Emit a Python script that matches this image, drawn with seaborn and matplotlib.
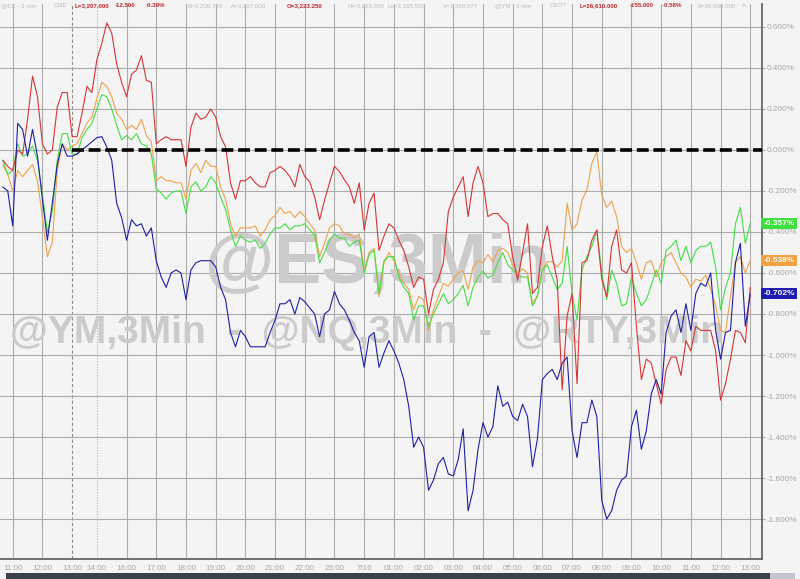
import numpy as np
import pandas as pd
import matplotlib
matplotlib.use("Agg")
import matplotlib.pyplot as plt
from matplotlib.patches import Rectangle
from matplotlib.transforms import blended_transform_factory
import seaborn as sns

# ---------------- data (percent change, 10-minute samples) ----------------
nq_vals = [-0.05, -0.08, -0.10, 0.00, -0.02, 0.15, 0.36, 0.26, 0.03, -0.02, 0.00, 0.21, 0.28, 0.28, 0.065, 0.065,
           0.18, 0.31, 0.28, 0.44, 0.52, 0.62, 0.57, 0.42, 0.33, 0.26, 0.37, 0.39, 0.46, 0.34, 0.33,
           0.03, 0.05, 0.065, 0.05, 0.05, 0.05, -0.08, 0.11, 0.18, 0.15, 0.16, 0.20, 0.16, 0.065, 0.015,
           -0.16, -0.24, -0.15, -0.15, -0.13, -0.16, -0.18, -0.18, -0.11, -0.10, -0.08, -0.10, -0.13, -0.18, -0.07,
           -0.13, -0.155, -0.23, -0.34, -0.245, -0.16, -0.08, -0.105, -0.145, -0.18, -0.26, -0.16, -0.39, -0.26, -0.21,
           -0.49, -0.42, -0.36, -0.38, -0.44, -0.49, -0.57, -0.67, -0.62, -0.63, -0.80, -0.68, -0.63, -0.55, -0.30,
           -0.23, -0.18, -0.13, -0.325, -0.16, -0.08, -0.16, -0.325, -0.31, -0.31, -0.34, -0.36, -0.52, -0.635, -0.50,
           -0.36, -0.70, -0.67, -0.47, -0.37, -0.52, -0.635, -1.17, -0.81, -0.70, -1.14, -0.55, -0.54, -0.44, -0.39,
           -0.63, -0.715, -0.47, -0.39, -0.585, -0.60, -0.55, -0.86, -1.12, -1.02, -1.04, -1.14, -1.24, -1.07, -1.01,
           -1.01, -1.10, -0.93, -0.98, -0.86, -0.88, -0.88, -0.88, -0.98, -1.22, -1.14, -1.02, -0.88, -0.89, -0.94, -0.67]

ym_vals = [-0.07, -0.12, -0.20, -0.10, -0.13, -0.10, -0.07, -0.15, -0.33, -0.52, -0.45, -0.10, 0.03, 0.00, 0.02, 0.03,
           0.08, 0.13, 0.16, 0.25, 0.33, 0.31, 0.26, 0.18, 0.15, 0.10, 0.12, 0.10, 0.15, 0.07, 0.04,
           -0.15, -0.13, -0.15, -0.15, -0.16, -0.16, -0.24, -0.10, -0.065, -0.11, -0.05, -0.08, -0.08, -0.18, -0.24,
           -0.36, -0.42, -0.38, -0.38, -0.38, -0.37, -0.42, -0.39, -0.34, -0.32, -0.28, -0.31, -0.30, -0.33, -0.30,
           -0.325, -0.36, -0.39, -0.52, -0.455, -0.38, -0.36, -0.37, -0.41, -0.41, -0.43, -0.41, -0.585, -0.50, -0.48,
           -0.715, -0.55, -0.50, -0.54, -0.60, -0.65, -0.68, -0.78, -0.715, -0.73, -0.88, -0.78, -0.715, -0.65, -0.665,
           -0.63, -0.60, -0.59, -0.68, -0.57, -0.54, -0.55, -0.51, -0.545, -0.49, -0.48, -0.50, -0.56, -0.60, -0.58,
           -0.60, -0.75, -0.71, -0.585, -0.545, -0.545, -0.57, -0.54, -0.26, -0.39, -0.36, -0.245, -0.195, -0.065, -0.01,
           -0.22, -0.28, -0.25, -0.325, -0.47, -0.50, -0.48, -0.55, -0.63, -0.55, -0.54, -0.62, -0.55, -0.52, -0.50,
           -0.55, -0.60, -0.62, -0.67, -0.63, -0.64, -0.61, -0.68, -0.76, -0.88, -0.89, -0.715, -0.55, -0.52, -0.60, -0.538]

es_vals = [-0.05, -0.12, -0.10, 0.03, -0.03, -0.02, 0.02, -0.05, -0.22, -0.40, -0.30, -0.05, 0.08, 0.08, -0.02, -0.02,
           0.06, 0.10, 0.13, 0.20, 0.27, 0.26, 0.20, 0.12, 0.05, 0.07, 0.05, 0.08, 0.03, 0.02, -0.02,
           -0.19, -0.21, -0.24, -0.21, -0.20, -0.20, -0.31, -0.18, -0.155, -0.20, -0.18, -0.13, -0.16, -0.23, -0.29,
           -0.39, -0.47, -0.42, -0.44, -0.45, -0.44, -0.48, -0.455, -0.41, -0.38, -0.38, -0.36, -0.39, -0.37, -0.37,
           -0.36, -0.39, -0.415, -0.55, -0.50, -0.44, -0.41, -0.43, -0.43, -0.47, -0.45, -0.44, -0.60, -0.51, -0.49,
           -0.70, -0.54, -0.52, -0.52, -0.62, -0.67, -0.70, -0.83, -0.76, -0.76, -0.86, -0.80, -0.75, -0.70, -0.75,
           -0.73, -0.70, -0.66, -0.76, -0.67, -0.62, -0.59, -0.625, -0.61, -0.55, -0.50, -0.56, -0.585, -0.61, -0.62,
           -0.62, -0.76, -0.715, -0.585, -0.56, -0.62, -0.68, -0.65, -0.47, -0.70, -0.83, -0.585, -0.52, -0.47, -0.39,
           -0.60, -0.73, -0.585, -0.65, -0.76, -0.75, -0.62, -0.70, -0.76, -0.73, -0.66, -0.585, -0.65, -0.49, -0.47,
           -0.44, -0.54, -0.47, -0.55, -0.49, -0.47, -0.47, -0.45, -0.57, -0.78, -0.67, -0.60, -0.36, -0.28, -0.455, -0.357]

rty_vals = [-0.18, -0.20, -0.37, 0.13, 0.10, -0.03, 0.10, -0.03, -0.24, -0.44, -0.26, -0.07, 0.03, -0.03, -0.03, -0.02,
            0.00, 0.02, 0.04, 0.06, 0.065, 0.015, -0.05, -0.26, -0.33, -0.44, -0.34, -0.37, -0.36, -0.42, -0.38,
            -0.54, -0.62, -0.67, -0.60, -0.585, -0.60, -0.73, -0.585, -0.55, -0.54, -0.54, -0.54, -0.57, -0.67, -0.73,
            -0.89, -0.96, -0.88, -0.91, -0.96, -0.96, -0.96, -0.96, -0.89, -0.83, -0.75, -0.75, -0.73, -0.80, -0.72,
            -0.74, -0.77, -0.80, -0.91, -0.80, -0.78, -0.69, -0.75, -0.78, -0.83, -0.89, -0.93, -1.06, -0.91, -0.89,
            -1.06, -0.99, -0.93, -0.98, -1.04, -1.12, -1.25, -1.45, -1.40, -1.45, -1.66, -1.61, -1.53, -1.50, -1.58,
            -1.59, -1.51, -1.36, -1.76, -1.66, -1.46, -1.33, -1.40, -1.35, -1.15, -1.25, -1.23, -1.30, -1.32, -1.24,
            -1.30, -1.545, -1.41, -1.12, -1.09, -1.07, -1.12, -1.04, -1.01, -1.37, -1.50, -1.33, -1.33, -1.22, -1.30,
            -1.71, -1.80, -1.76, -1.66, -1.61, -1.59, -1.35, -1.27, -1.46, -1.37, -1.19, -1.12, -1.19, -0.89, -0.81,
            -0.78, -0.89, -0.75, -0.88, -0.70, -0.65, -0.665, -0.60, -0.88, -1.02, -0.89, -0.88, -0.55, -0.455, -0.86, -0.702]

series_names = ["YM", "ES", "NQ", "RTY"]
tick_labels = ["11:00", "12:00", "13:00", "14:00", "16:00", "17:00", "18:00", "19:00", "20:00", "21:00",
               "22:00", "23:00", "7/16", "01:00", "02:00", "03:00", "04:00", "05:00", "06:00", "07:00",
               "08:00", "09:00", "10:00", "11:00", "12:00", "13:00"]
tick_bars = [2, 8, 14, 19, 25, 31, 37, 43, 49, 55, 61, 67, 73, 79, 85, 91, 97, 103, 109, 115, 121, 127, 133,
             139, 145, 151]
y_ticks = [-1.8, -1.6, -1.4, -1.2, -1.0, -0.8, -0.6, -0.4, -0.2, 0.0, 0.2, 0.4, 0.6]

# ---------------- styles ----------------
palette = {"YM": "#f0a24a", "ES": "#45de45", "NQ": "#d83434", "RTY": "#1f1fa8"}
BG = "#f4f4f4"
GRID = "#acacac"
LABEL_GRAY = "#a8a8a8"

sns.set_style("white")
plt.rcParams["font.family"] = ["Liberation Sans", "DejaVu Sans"]

W, H = 800, 579
fig = plt.figure(figsize=(W / 100, H / 100), dpi=100, facecolor=BG)
ax = fig.add_axes([0, 20 / H, 762 / W, 555 / H])
ax.set_facecolor(BG)

values = {"YM": ym_vals, "ES": es_vals, "NQ": nq_vals, "RTY": rty_vals}
df = pd.concat([pd.DataFrame({"bar": np.arange(len(v)), "pct": v, "series": k}) for k, v in values.items()],
               ignore_index=True)

sns.lineplot(data=df, x="bar", y="pct", hue="series", hue_order=series_names, palette=palette,
             linewidth=0.8, legend=False, ax=ax, estimator=None, sort=False, zorder=3)

ax.set_xlim(-0.57, 153.37)
ax.set_ylim(-1.995, 0.712)

# zero line (dashed, from the 13:00 session mark)
ax.hlines(0, tick_bars[2], 153.37, colors="black", linewidth=2.6, linestyles=(0, (3.3, 1.3)), zorder=5)

# grid & ticks
ax.set_xticks(tick_bars)
ax.set_xticklabels(tick_labels)
ax.set_yticks(y_ticks)
ax.set_yticklabels([f"{v:.3f}%" for v in y_ticks])
ax.yaxis.tick_right()
ax.grid(True, color=GRID, linewidth=0.8)
ax.set_axisbelow(True)
gl = ax.get_xgridlines()
gl[2].set_linestyle((0, (3, 2)))
gl[2].set_color("#8c8c8c")
gl[3].set_linestyle((0, (1, 1.5)))
gl[3].set_color("#b4b4b4")
ax.tick_params(axis="x", colors=GRID, labelcolor=LABEL_GRAY, labelsize=5.8, length=3, pad=1.5, width=0.8)
ax.tick_params(axis="y", colors=GRID, labelcolor=LABEL_GRAY, labelsize=5.9, length=2.5, pad=1, width=0.8)
ax.set_xlabel("")
ax.set_ylabel("")
for s in ["top", "left"]:
    ax.spines[s].set_visible(False)
for s in ["bottom", "right"]:
    ax.spines[s].set_color("#5a5a5a")
    ax.spines[s].set_linewidth(1.2)

# watermarks
WM = "#cbcbcb"
ax.text(205 / 762, 1 - (283 - 4) / 555, "@ES,3Min", transform=ax.transAxes, fontsize=51, fontweight="bold",
        color=WM, ha="left", va="baseline", zorder=1, clip_on=False)
ax.text(10 / 762, 1 - (343 - 4) / 555, "@YM,3Min  -  @NQ,3Min  -  @RTY,3Min", transform=ax.transAxes,
        fontsize=28, fontweight="bold", color=WM, ha="left", va="baseline", zorder=1, clip_on=True)

# last-value labels on the right
trans = blended_transform_factory(ax.transAxes, ax.transData)
for name, fc in [("ES", "#3ee03e"), ("YM", "#f2a040"), ("RTY", "#1d1db0")]:
    v = values[name][-1]
    ax.text(1.002, v, f"{v:.3f}%", transform=trans, fontsize=6, fontweight="bold", color="white",
            ha="left", va="center", zorder=6, clip_on=False,
            bbox=dict(boxstyle="square,pad=0.25", fc=fc, ec="none"))

# header line
header = [("@ES - 3 min", 1, False), ("CME", 54, False), ("L=3,207.000", 75, True), ("-12.500", 115, True),
          ("-0.39%", 146, True), ("B=3,206.750", 187, False), ("A=3,207.000", 231, False),
          ("O=3,223.250", 287, True), ("Hi=3,228.500", 348, False), ("Lo=3,188.500", 387, False),
          ("V=1,390,977", 443, False), ("@YM - 3 min", 495, False), ("CBOT", 550, False),
          ("L=26,610.000", 580, True), ("-155.000", 630, True), ("-0.58%", 663, True),
          ("B=26,609.000", 698, False), ("A...", 742, False)]
for txt, xp, hot in header:
    fig.text(xp / W, 1 - 5.5 / H, txt, fontsize=4.4, fontweight="bold" if hot else "normal",
             color="#c0282d" if hot else "#bcbcbc", ha="left", va="center")

# bottom scroll bar
fig.patches.append(Rectangle((6 / W, 0), 764 / W, 6 / H, transform=fig.transFigure, fc="#3b4049", ec="none"))
fig.patches.append(Rectangle((770 / W, 0), 25 / W, 6 / H, transform=fig.transFigure, fc="#c2c6cc", ec="none"))

fig.savefig("out.png", dpi=100, facecolor=BG)
